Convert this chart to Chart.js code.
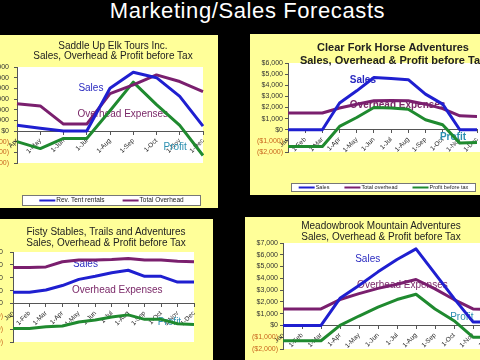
<!DOCTYPE html>
<html>
<head>
<meta charset="utf-8">
<script src="https://cdn.jsdelivr.net/npm/chart.js@4.4.0/dist/chart.umd.min.js"></script>
<style>
  html, body { margin: 0; padding: 0; background: #000; width: 480px; height: 360px; overflow: hidden; font-family: "Liberation Sans", Arial, sans-serif; }
  .main { position: absolute; left: 0; top: -2px; width: 495px; text-align: center; color: #fff; font-size: 22px; line-height: 26px; letter-spacing: 0.6px; }
  .panel { position: absolute; background: #ffff99; overflow: hidden; }
  .panel canvas { position: absolute; top: 0; }
  .ttl { position: absolute; white-space: nowrap; text-align: center; color: #222; }
</style>
</head>
<body>
<div class="main">Marketing/Sales Forecasts</div>

<div class="panel" style="left:0;top:35px;width:218px;height:173px;">
  <canvas id="elk" width="240" height="173" style="left:-25px;"></canvas>
  <div class="ttl" style="left:-7px;top:6px;width:240px;font-size:10px;line-height:10px;">Saddle Up Elk Tours Inc.<br>Sales, Overhead &amp; Profit before Tax</div>
</div>

<div class="panel" style="left:250px;top:34px;width:230px;height:161px;">
  <canvas id="clear" width="240" height="161" style="left:0;"></canvas>
  <div class="ttl" style="left:-17px;top:6.5px;width:320px;font-size:11px;line-height:13px;font-weight:bold;">Clear Fork Horse Adventures<br>Sales, Overhead &amp; Profit before Tax</div>
</div>

<div class="panel" style="left:0;top:219px;width:213px;height:141px;">
  <canvas id="fisty" width="240" height="141" style="left:-25px;"></canvas>
  <div class="ttl" style="left:-54px;top:6.5px;width:320px;font-size:10px;line-height:11px;">Fisty Stables, Trails and Adventures<br>Sales, Overhead &amp; Profit before Tax</div>
</div>

<div class="panel" style="left:245px;top:217px;width:235px;height:143px;">
  <canvas id="meadow" width="260" height="143" style="left:0;"></canvas>
  <div class="ttl" style="left:-24px;top:2.5px;width:320px;font-size:10px;line-height:11px;">Meadowbrook Mountain Adventures<br>Sales, Overhead &amp; Profit before Tax</div>
</div>

<script>
// Saddle Up Elk Tours (Apr - Dec)
const elkMonths = ['Apr', '1-May', '1-Jun', '1-Jul', '1-Aug', '1-Sep', '1-Oct', '1-Nov', '1-Dec'];
const elkSales = [530, 250, 0, 0, 4000, 5500, 5000, 3250, 460];
const elkOverhead = [2550, 2350, 650, 650, 3500, 4330, 5260, 4640, 3700];
const elkProfit = [-1000, -1650, -700, -700, 1900, 4580, 2480, 530, -2300];

// Clear Fork Horse Adventures
const clearMonths = ['Jan', '1-Feb', '1-Mar', '1-Apr', '1-May', '1-Jun', '1-Jul', '1-Aug', '1-Sep', '1-Oct', '1-Nov', '1-Dec'];
const clearSales = [0, 0, 0, 2400, 3500, 4700, 4600, 4500, 3200, 2300, 0, 0];
const clearOverhead = [1500, 1500, 1500, 1950, 2300, 2600, 2620, 2600, 2300, 1900, 1250, 1200];
const clearProfit = [-1500, -1500, -1500, 300, 1100, 2000, 1950, 1850, 900, 450, -1200, -1150];

// Fisty Stables, Trails and Adventures
const fistyMonths = ['Jan', '1-Feb', '1-Mar', '1-Apr', '1-May', '1-Jun', '1-Jul', '1-Aug', '1-Sep', '1-Oct', '1-Nov', '1-Dec'];
const fistyPurple = [2790, 2790, 2840, 3240, 3370, 3370, 3420, 3500, 3370, 3370, 3290, 3240];
const fistyBlue = [870, 870, 1050, 1390, 1870, 2110, 2390, 2580, 2110, 2110, 1660, 1660];
const fistyProfit = [-1950, -1950, -1820, -1760, -1450, -1290, -1050, -890, -1240, -1240, -1580, -1630];

// Meadowbrook Mountain Adventures
const meadowMonths = ['Jan', '1-Feb', '1-Mar', '1-Apr', '1-May', '1-Jun', '1-Jul', '1-Aug', '1-Sep', '1-Oct', '1-Nov', '1-Dec'];
const meadowSales = [0, 0, 0, 2300, 3400, 4550, 5600, 6500, 4400, 2300, 300, 300];
const meadowOverhead = [1400, 1400, 1400, 2200, 2700, 3150, 3500, 3900, 3100, 2200, 1400, 1350];
const meadowProfit = [-1300, -1300, -1300, 0, 800, 1550, 2200, 2650, 1400, 400, -1000, -1000];

const BLUE = '#1f1fd0', PURPLE = '#7a1f6e', GREEN = '#1f8a2f';
const NOTE_BLUE = '#2a2ac0', NOTE_PURPLE = '#7a2868', NOTE_TEAL = '#2a8fb0';
const tickFont = { family: '"Liberation Sans Narrow", "Liberation Sans", Arial, sans-serif', size: 7 };

function money(v) {
  if (v < 0) return '($' + Math.abs(v).toLocaleString('en-US') + ')';
  return '$' + v.toLocaleString('en-US');
}

const plotBg = {
  id: 'plotBg',
  beforeDraw(chart, args, opts) {
    const { ctx, chartArea: a } = chart;
    ctx.save();
    ctx.fillStyle = '#fff';
    ctx.fillRect(a.left, a.top, a.right - a.left + (opts.extra || 0), a.bottom - a.top);
    ctx.restore();
  }
};

const seriesNotes = {
  id: 'seriesNotes',
  beforeDatasetsDraw(chart, args, opts) {
    const { ctx, scales: { x, y } } = chart;
    ctx.save();
    ctx.font = opts.font;
    ctx.textBaseline = 'middle';
    (opts.items || []).forEach(n => {
      ctx.fillStyle = n.color;
      ctx.fillText(n.text, x.getPixelForValue(n.at[0]), y.getPixelForValue(n.at[1]));
    });
    ctx.restore();
  }
};

const boxLegend = {
  id: 'boxLegend',
  afterDraw(chart, args, opts) {
    if (!opts.box) return;
    const { ctx } = chart;
    const [bx, by, bw, bh] = opts.box;
    ctx.save();
    ctx.fillStyle = '#fff';
    ctx.fillRect(bx, by, bw, bh);
    ctx.strokeStyle = '#777';
    ctx.lineWidth = 1;
    ctx.strokeRect(bx + 0.5, by + 0.5, bw - 1, bh - 1);
    ctx.font = opts.font;
    const sets = chart.data.datasets.slice(0, opts.count);
    const widths = sets.map(d => opts.sample + 1 + ctx.measureText(d.label).width);
    const total = widths.reduce((s, w) => s + w, 0) + opts.gap * (sets.length - 1);
    let cx = bx + (bw - total) / 2;
    const cy = by + bh / 2;
    sets.forEach((d, i) => {
      ctx.strokeStyle = d.borderColor;
      ctx.lineWidth = 2;
      ctx.beginPath();
      ctx.moveTo(cx, cy);
      ctx.lineTo(cx + opts.sample, cy);
      ctx.stroke();
      ctx.fillStyle = '#222';
      ctx.textBaseline = 'middle';
      ctx.fillText(d.label, cx + opts.sample + 1, cy);
      cx += widths[i] + opts.gap;
    });
    ctx.restore();
  }
};

function line(label, data, color) {
  return { label, data, borderColor: color, backgroundColor: color, borderWidth: 3, pointRadius: 0, tension: 0, borderJoinStyle: 'round' };
}

function makeChart(id, labels, datasets, yMin, yMax, padding, extra) {
  return new Chart(document.getElementById(id), {
    type: 'line',
    data: { labels, datasets },
    options: {
      responsive: false,
      animation: false,
      devicePixelRatio: 1,
      events: [],
      layout: { padding },
      plugins: Object.assign({ legend: { display: false }, tooltip: { enabled: false }, plotBg: { extra: extra.bg || 0 } }, extra.plugins),
      scales: {
        x: {
          position: { y: 0 },
          grid: { drawOnChartArea: false, tickLength: 3, color: '#555' },
          border: { color: '#555' },
          ticks: { minRotation: 45, maxRotation: 45, autoSkip: false, padding: 3, color: '#222', font: { family: '"Liberation Sans", Arial, sans-serif', size: 6.5 } },
          afterFit(s) { s.paddingLeft = 0; s.paddingRight = 0; }
        },
        y: {
          min: yMin,
          max: yMax,
          afterFit(s) { s.width = 38; s.paddingTop = 0; s.paddingBottom = 0; },
          grid: { drawOnChartArea: false, tickLength: 3, color: '#555' },
          border: { color: '#555' },
          ticks: {
            stepSize: 1000,
            autoSkip: false,
            padding: extra.yPad || 2,
            font: tickFont,
            callback: v => money(v),
            color: c => (c.tick && c.tick.value < 0) ? '#c8641e' : '#333'
          }
        }
      }
    },
    plugins: [plotBg, seriesNotes, boxLegend]
  });
}

makeChart('elk', elkMonths, [
  line('Rev. Tent rentals', elkSales, BLUE),
  line('Total Overhead', elkOverhead, PURPLE),
  line('Profit before tax', elkProfit, GREEN)
], -3000, 6000, { left: 4, right: 12, top: 32, bottom: 45 }, {
  yPad: 5,
  plugins: {
    seriesNotes: { font: '10px "Liberation Sans", Arial, sans-serif', items: [
      { text: 'Sales', color: NOTE_BLUE, at: [2.64, 4020] },
      { text: 'Overhead Expenses', color: NOTE_PURPLE, at: [2.6, 1590] },
      { text: 'Profit', color: NOTE_TEAL, at: [6.3, -1500] }
    ] },
    boxLegend: { box: [47, 160, 179, 11], count: 2, sample: 16, gap: 18, font: '6.5px "Liberation Sans", Arial, sans-serif' }
  }
});

makeChart('clear', clearMonths, [
  line('Sales', clearSales, BLUE),
  line('Total overhead', clearOverhead, PURPLE),
  line('Profit before tax', clearProfit, GREEN)
], -2000, 6000, { left: 0, right: 13, top: 29, bottom: 43 }, {
  bg: 10,
  plugins: {
    seriesNotes: { font: 'bold 10px "Liberation Sans", Arial, sans-serif', items: [
      { text: 'Sales', color: NOTE_BLUE, at: [3.6, 4410] },
      { text: 'Overhead Expenses', color: NOTE_PURPLE, at: [3.6, 2160] },
      { text: 'Profit', color: NOTE_TEAL, at: [8.84, -630] }
    ] },
    boxLegend: { box: [41, 149, 185, 9], count: 3, sample: 16, gap: 15, font: '5.5px "Liberation Sans", Arial, sans-serif' }
  }
});

makeChart('fisty', fistyMonths, [
  line('Sales', fistyBlue, BLUE),
  line('Total overhead', fistyPurple, PURPLE),
  line('Profit before tax', fistyProfit, GREEN)
], -3000, 4000, { left: 0, right: 21, top: 33, bottom: 18 }, {
  yPad: 7,
  plugins: {
    seriesNotes: { font: '10px "Liberation Sans", Arial, sans-serif', items: [
      { text: 'Sales', color: NOTE_BLUE, at: [3.64, 3030] },
      { text: 'Overhead Expenses', color: NOTE_PURPLE, at: [3.58, 1010] },
      { text: 'Profit', color: NOTE_TEAL, at: [8.8, -1480] }
    ] }
  }
});

makeChart('meadow', meadowMonths, [
  line('Sales', meadowSales, BLUE),
  line('Total overhead', meadowOverhead, PURPLE),
  line('Profit before tax', meadowProfit, GREEN)
], -2000, 7000, { left: 0, right: 13, top: 26, bottom: 11 }, {
  plugins: {
    seriesNotes: { font: '10px "Liberation Sans", Arial, sans-serif', items: [
      { text: 'Sales', color: NOTE_BLUE, at: [3.8, 5590] },
      { text: 'Overhead Expenses', color: NOTE_PURPLE, at: [3.9, 3390] },
      { text: 'Profit', color: NOTE_TEAL, at: [8.8, 680] }
    ] }
  }
});
</script>
</body>
</html>
